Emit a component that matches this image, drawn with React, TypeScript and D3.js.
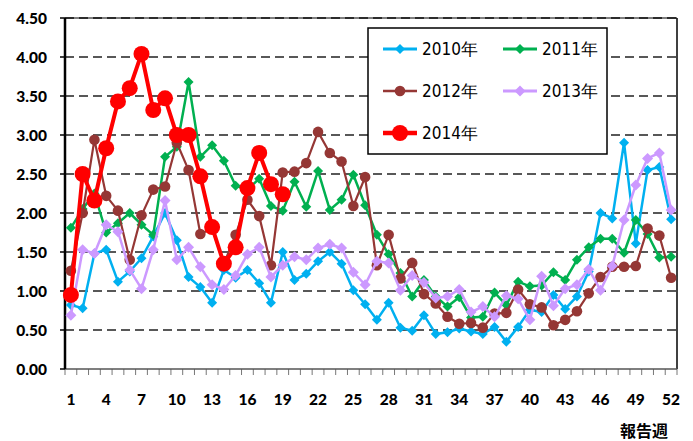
import React from "react";
import * as d3 from "d3";

const weeks = d3.range(1, 53);
const xTickWeeks = [1, 4, 7, 10, 13, 16, 19, 22, 25, 28, 31, 34, 37, 40, 43, 46, 49, 52];
const yTicks = [0, 0.5, 1, 1.5, 2, 2.5, 3, 3.5, 4, 4.5];

const s2010 = [0.82, 0.78, 1.48, 1.53, 1.12, 1.25, 1.42, 1.70, 2.00, 1.65, 1.18, 1.05, 0.85, 1.27, 1.17, 1.27, 1.10, 0.85, 1.50, 1.14, 1.22, 1.38, 1.50, 1.35, 1.01, 0.83, 0.63, 0.85, 0.53, 0.49, 0.69, 0.45, 0.47, 0.52, 0.48, 0.45, 0.54, 0.35, 0.54, 0.76, 0.73, 0.95, 0.77, 0.93, 1.25, 2.00, 1.93, 2.90, 1.61, 2.55, 2.59, 1.92];
const s2011 = [1.81, 2.05, 2.25, 1.75, 1.87, 2.00, 1.85, 1.72, 2.72, 2.85, 3.68, 2.72, 2.87, 2.67, 2.35, 2.30, 2.44, 2.09, 2.03, 2.40, 2.08, 2.54, 2.04, 2.17, 2.49, 2.10, 1.72, 1.47, 1.23, 0.93, 1.14, 0.93, 0.80, 0.92, 0.66, 0.67, 0.98, 0.82, 1.12, 1.06, 1.07, 1.24, 1.14, 1.40, 1.56, 1.67, 1.67, 1.49, 1.91, 1.73, 1.43, 1.44];
const s2012 = [1.26, 2.00, 2.94, 2.22, 2.03, 1.40, 1.97, 2.30, 2.34, 2.90, 2.55, 1.73, 1.80, 1.35, 1.72, 2.17, 1.96, 1.33, 2.52, 2.53, 2.64, 3.04, 2.77, 2.66, 2.09, 2.46, 1.33, 1.72, 1.16, 1.36, 0.96, 0.84, 0.67, 0.58, 0.59, 0.53, 0.71, 0.72, 1.02, 0.83, 0.79, 0.56, 0.63, 0.74, 0.97, 1.18, 1.31, 1.31, 1.32, 1.80, 1.71, 1.17];
const s2013 = [0.69, 1.53, 1.48, 1.85, 1.76, 1.27, 1.03, 1.53, 2.16, 1.40, 1.56, 1.31, 1.08, 1.02, 1.20, 1.47, 1.56, 1.18, 1.33, 1.44, 1.40, 1.55, 1.60, 1.55, 1.24, 1.08, 1.38, 1.36, 1.01, 1.20, 1.11, 0.91, 0.93, 1.02, 0.73, 0.80, 0.67, 0.94, 0.90, 0.63, 1.19, 0.81, 1.03, 1.08, 1.28, 1.01, 1.32, 1.91, 2.36, 2.70, 2.77, 2.04];
const s2014 = [0.95, 2.50, 2.16, 2.83, 3.43, 3.60, 4.04, 3.32, 3.47, 3.00, 3.00, 2.47, 1.82, 1.35, 1.56, 2.32, 2.77, 2.37, 2.24];

type Series = { name: string; values: number[]; color: string; lw: number; marker: "diamond" | "circle"; r: number };

const series: Series[] = [
  { name: "2010年", values: s2010, color: "#00B0F0", lw: 2.5, marker: "diamond", r: 5 },
  { name: "2011年", values: s2011, color: "#00B050", lw: 2.5, marker: "diamond", r: 5 },
  { name: "2012年", values: s2012, color: "#953735", lw: 2.2, marker: "circle", r: 5.3 },
  { name: "2013年", values: s2013, color: "#CC99FF", lw: 2.5, marker: "diamond", r: 5.5 },
  { name: "2014年", values: s2014, color: "#FF0000", lw: 4, marker: "circle", r: 8 },
];

const W = 693, H = 441;
const L = 65, R = 677, T = 18, B = 369;

function Marker({ s, cx, cy }: { s: Series; cx: number; cy: number }) {
  if (s.marker === "circle") return <circle cx={cx} cy={cy} r={s.r} fill={s.color} />;
  const r = s.r;
  return <path d={`M${cx},${cy - r}L${cx + r},${cy}L${cx},${cy + r}L${cx - r},${cy}Z`} fill={s.color} />;
}

export default function App() {
  const x = d3.scaleBand<number>().domain(weeks).range([L, R]);
  const xc = (w: number) => (x(w) as number) + x.bandwidth() / 2;
  const y = d3.scaleLinear().domain([0, 4.5]).range([B, T]);
  const line = d3.line<number>().x((_, i) => xc(i + 1)).y((v) => y(v));

  const legendItems = [
    { s: series[0], lx: 383, ly: 49 },
    { s: series[1], lx: 503, ly: 49 },
    { s: series[2], lx: 383, ly: 91 },
    { s: series[3], lx: 503, ly: 91 },
    { s: series[4], lx: 383, ly: 133 },
  ];

  return (
    <svg width={W} height={H} style={{ position: "absolute", left: 0, top: 0, background: "#fff" }}>
      <rect x={0} y={0} width={W} height={H} fill="#fff" />
      {yTicks.filter((t) => t > 0).map((t) => (
        <line key={t} x1={L} x2={R} y1={y(t)} y2={y(t)} stroke="#222" strokeWidth={1.5} strokeDasharray="9,5" />
      ))}
      <line x1={L} x2={R} y1={T} y2={T} stroke="#000" strokeWidth={1} />
      <line x1={R} x2={R} y1={T} y2={B} stroke="#000" strokeWidth={1.5} />
      {weeks.concat([53]).map((w) => {
        const xx = w === 53 ? R : (x(w) as number);
        return <line key={w} x1={xx} x2={xx} y1={B} y2={B + 6} stroke="#777" strokeWidth={1} />;
      })}
      <line x1={L} x2={R} y1={B} y2={B} stroke="#555" strokeWidth={1.5} />
      {yTicks.map((t) => (
        <g key={t}>
          <line x1={L - 5} x2={L} y1={y(t)} y2={y(t)} stroke="#000" strokeWidth={1.5} />
          <text x={47} y={y(t)} dy="0.36em" textAnchor="end" fontFamily="Lato, 'Open Sans', sans-serif" fontWeight={900} fontSize={15.5} fill="#000">
            {t.toFixed(2)}
          </text>
        </g>
      ))}
      <line x1={L} x2={L} y1={T} y2={B} stroke="#000" strokeWidth={2.5} />
      {xTickWeeks.map((w) => (
        <text key={w} x={xc(w)} y={405} textAnchor="middle" fontFamily="Lato, 'Open Sans', sans-serif" fontWeight={900} fontSize={15.5} fill="#000">
          {w}
        </text>
      ))}
      <text x={644} y={437} textAnchor="middle" fontFamily="'Noto Sans CJK JP', sans-serif" fontWeight="bold" fontSize={16} fill="#000">
        報告週
      </text>
      {series.map((s) => (
        <g key={s.name}>
          <path d={line(s.values) || ""} fill="none" stroke={s.color} strokeWidth={s.lw} strokeLinejoin="round" />
          {s.values.map((v, i) => (
            <Marker key={i} s={s} cx={xc(i + 1)} cy={y(v)} />
          ))}
        </g>
      ))}
      <rect x={368} y={28} width={239} height={126} fill="#fff" stroke="#000" strokeWidth={1.5} />
      {legendItems.map(({ s, lx, ly }) => (
        <g key={s.name}>
          <line x1={lx} x2={lx + 34} y1={ly} y2={ly} stroke={s.color} strokeWidth={s.lw + 0.5} />
          <Marker s={s} cx={lx + 17} cy={ly} />
          <text x={lx + 39} y={ly} dy="0.36em" fontFamily="'Liberation Sans Narrow', 'DejaVu Sans Condensed', sans-serif" fontSize={17} fill="#000">
            {s.name}
          </text>
        </g>
      ))}
    </svg>
  );
}
